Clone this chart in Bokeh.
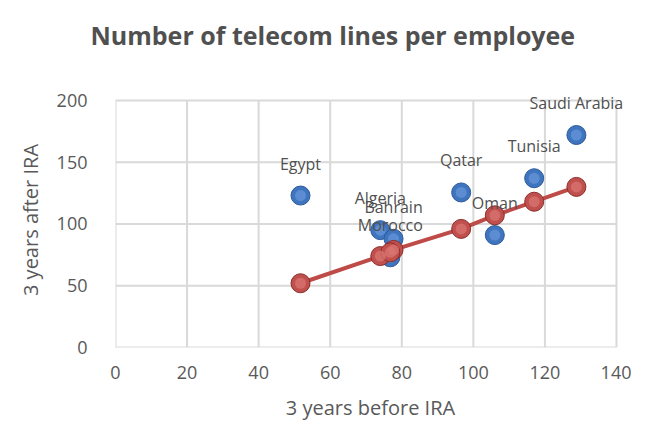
from bokeh.plotting import figure
from bokeh.models import ColumnDataSource, FixedTicker, Range1d, LabelSet, Title, LinearAxis
from bokeh.embed import file_html
from bokeh.resources import INLINE
from bokeh.core.properties import value

countries = ["Egypt", "Algeria", "Bahrain", "Morocco", "Qatar", "Oman", "Tunisia", "Saudi Arabia"]
before_ira = [51.7, 74.0, 77.7, 76.8, 96.6, 106.0, 117.0, 128.8]
after_ira = [123.0, 95.0, 88.0, 73.0, 125.5, 91.0, 137.0, 172.0]
fitted = [52.0, 74.0, 79.0, 77.0, 96.0, 107.0, 118.0, 130.0]
x_ticks = [0, 20, 40, 60, 80, 100, 120, 140]
y_ticks = [0, 50, 100, 150, 200]
title_text = "Number of telecom lines per employee"

src = ColumnDataSource(dict(x=before_ira, y=after_ira, fit=fitted, name=countries))
order = sorted(range(len(before_ira)), key=lambda i: before_ira[i])
line_src = ColumnDataSource(dict(x=[before_ira[i] for i in order], y=[fitted[i] for i in order]))

x_min, x_max = x_ticks[0], x_ticks[-1]
y_min, y_max = y_ticks[0], y_ticks[-1]

FONT = "Open Sans"
# ranges padded a little past the last grid line so the data labels are not clipped
p = figure(width=631, height=423, output_backend="svg", toolbar_location=None,
           x_range=Range1d(x_min, x_max * 1.018), y_range=Range1d(y_min, y_max * 1.032),
           min_border_left=115, min_border_right=6, min_border_top=92, min_border_bottom=76)

xaxis = p.below[0]
yaxis = p.left[0]

# invisible spacer between the frame and the title (one tick, empty label, no lines)
spacer = LinearAxis(ticker=FixedTicker(ticks=[x_min]), axis_line_color=None,
                    major_tick_line_color=None, minor_tick_line_color=None,
                    major_label_overrides={x_min: ""},
                    major_label_text_color=None, major_label_text_font_size="0px",
                    major_tick_out=36, major_tick_in=0, major_label_standoff=0)
p.add_layout(spacer, "above")

title = Title(text=title_text, text_font=FONT, text_font_size="25px", text_font_style="bold",
              text_color="#505050", align="left", offset=-25, standoff=10)
p.add_layout(title, "above")

xaxis.ticker = FixedTicker(ticks=x_ticks)
yaxis.ticker = FixedTicker(ticks=y_ticks)
for ax in (xaxis, yaxis):
    ax.axis_line_color = None
    ax.major_tick_line_color = None
    ax.minor_tick_line_color = None
    ax.major_label_text_font = FONT
    ax.major_label_text_font_size = "18px"
    ax.major_label_text_color = "#595959"
    ax.axis_label_text_font = FONT
    ax.axis_label_text_font_size = "20px"
    ax.axis_label_text_color = "#595959"
    ax.axis_label_text_font_style = "normal"
xaxis.axis_label = "3 years before IRA"
yaxis.axis_label = "3 years after IRA"
xaxis.major_label_standoff = 12
yaxis.major_label_standoff = 22
xaxis.axis_label_standoff = 12
yaxis.axis_label_standoff = 10

p.grid.visible = False
p.outline_line_color = None
p.border_fill_color = "white"

# grid drawn from the tick lists
p.segment(x0=x_ticks, x1=x_ticks, y0=[y_min] * len(x_ticks), y1=[y_max] * len(x_ticks),
          line_color="#d9d9d9", line_width=2)
p.segment(x0=[x_min] * len(y_ticks), x1=[x_max] * len(y_ticks), y0=y_ticks, y1=y_ticks,
          line_color="#d9d9d9", line_width=2)

# blue series (actual)
p.scatter("x", "y", source=src, size=19, fill_color="#3f74bf", line_color="#2d5a9a", line_width=1)
p.scatter("x", "y", source=src, size=11, fill_color="#6a98dc", line_color=None, alpha=0.7)

# red fitted line and points
p.line("x", "y", source=line_src, line_color="#be4b48", line_width=4)
p.scatter("x", "fit", source=src, size=19, fill_color="#c0504d", line_color="#8b2e2b", line_width=1)
p.scatter("x", "fit", source=src, size=11, fill_color="#dc7673", line_color=None, alpha=0.7)

labels = LabelSet(x="x", y="y", text="name", source=src, y_offset=32, text_align="center",
                  text_baseline="middle", text_font=value(FONT), text_font_size="16px",
                  text_color="#505050")
p.add_layout(labels)

open("out.html", "w").write(file_html(p, INLINE))
